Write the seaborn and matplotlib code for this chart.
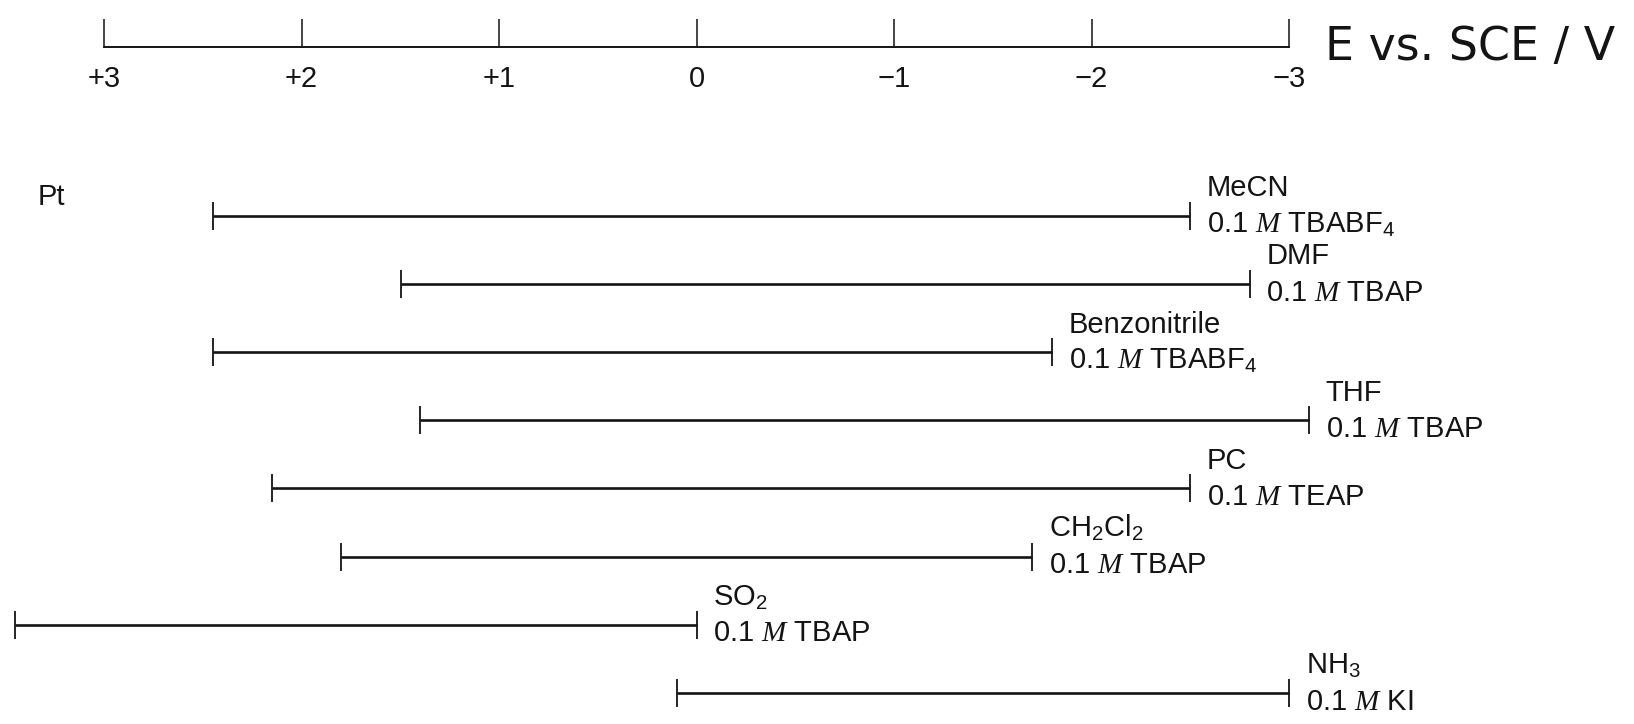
import pandas as pd
import matplotlib
matplotlib.use("Agg")
import matplotlib.pyplot as plt
import seaborn as sns

# potential windows on Pt (V vs. SCE)
solvents = ["MeCN", "DMF", "Benzonitrile", "THF", "PC", "CH$_2$Cl$_2$", "SO$_2$", "NH$_3$"]
electrolytes = ["TBABF$_4$", "TBAP", "TBABF$_4$", "TBAP", "TEAP", "TBAP", "TBAP", "KI"]
anodic_limit = [2.45, 1.5, 2.45, 1.4, 2.15, 1.8, 3.45, 0.1]
cathodic_limit = [-2.5, -2.8, -1.8, -3.1, -2.5, -1.7, 0.0, -3.0]

scale_ticks = [3, 2, 1, 0, -1, -2, -3]
scale_labels = ["+3", "+2", "+1", "0", "\u22121", "\u22122", "\u22123"]

sns.set_theme(style="white")
plt.rcParams["font.family"] = ["Liberation Sans", "DejaVu Sans"]
plt.rcParams["mathtext.fontset"] = "custom"
plt.rcParams["mathtext.rm"] = "Liberation Sans"
plt.rcParams["mathtext.it"] = "Liberation Serif:italic"

df = pd.DataFrame({
    "solvent": solvents,
    "electrolyte": electrolytes,
    "anodic": anodic_limit,
    "cathodic": cathodic_limit,
})
df["row"] = range(len(df))
df["mid"] = (df["anodic"] + df["cathodic"]) / 2
df["half"] = (df["anodic"] - df["cathodic"]) / 2

ink = "#141414"
fs = 21

fig = plt.figure(figsize=(16.34, 7.24), dpi=100)
ax = fig.add_axes([0, 0, 1, 1])
ax.set_xlim(3.528, -4.746)
ax.set_ylim(7.455, -3.163)
ax.axis("off")

ax.errorbar(df["mid"], df["row"], xerr=df["half"], fmt="none",
            ecolor=ink, elinewidth=1.9, capsize=10, capthick=1.3)

for _, r in df.iterrows():
    ax.annotate(r["solvent"], xy=(r["cathodic"], r["row"]), xytext=(12, 14),
                textcoords="offset points", ha="left", va="baseline",
                fontsize=fs, color=ink)
    ax.annotate("0.1 $M$ " + r["electrolyte"], xy=(r["cathodic"], r["row"]),
                xytext=(12, -12), textcoords="offset points", ha="left",
                va="baseline", fontsize=fs, color=ink)

ax.annotate("Pt", xy=(3.34, 0), xytext=(0, 8), textcoords="offset points",
            ha="left", va="baseline", fontsize=fs, color=ink)

# potential scale on top
ax_top = fig.add_axes([104.2 / 1634, 1 - 47 / 724, (1289 - 104.2) / 1634, 0.02])
ax_top.set_xlim(3, -3)
ax_top.set_ylim(0, 1)
sns.despine(ax=ax_top, left=True, top=True, right=True)
ax_top.spines["bottom"].set_color(ink)
ax_top.spines["bottom"].set_linewidth(1.4)
ax_top.set_yticks([])
ax_top.set_xticks(scale_ticks)
ax_top.set_xticklabels(scale_labels)
ax_top.tick_params(axis="x", direction="in", length=20, width=1.1, color=ink,
                   pad=13, labelsize=fs, labelcolor=ink, bottom=True)
ax_top.patch.set_alpha(0)

fig.text(1325 / 1634, 1 - 47 / 724, "E vs. SCE / V", family="DejaVu Sans",
         fontsize=33, va="center", ha="left", color=ink)

fig.savefig("out.png", dpi=100, facecolor="white")
